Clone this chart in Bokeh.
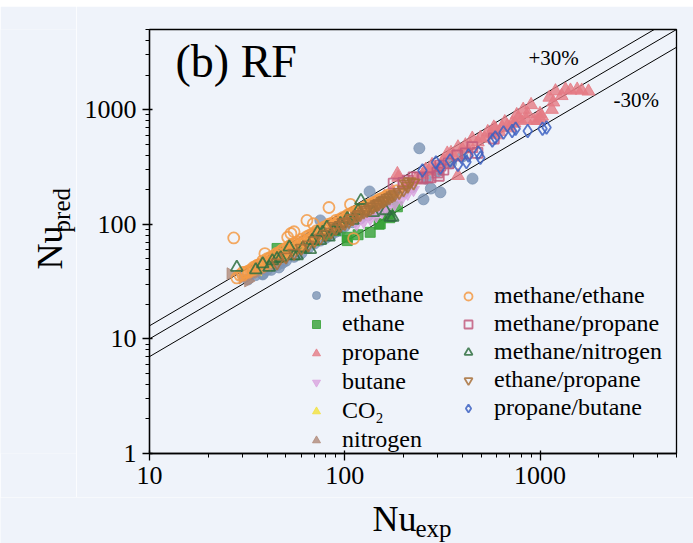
import math
from bokeh.plotting import figure
from bokeh.models import FixedTicker, Label, Legend, LegendItem, PrintfTickFormatter, Spacer
from bokeh.layouts import column, row
from bokeh.core.properties import value
from bokeh.embed import file_html
from bokeh.resources import INLINE

# ---------------- data (Nu_exp, Nu_pred) ----------------
methane_exp = [32, 35, 38, 40, 42, 45, 48, 50, 55, 60, 65, 70, 75, 80, 90, 100, 110, 120, 132, 134, 140, 150, 160, 170, 180,
               200, 220, 241, 253, 276, 309, 451, 260, 300, 350, 400, 75, 85, 95, 46, 38]
methane_pred = [33, 36, 37, 40, 40, 44, 46, 48, 52, 56, 62, 68, 72, 76, 86, 96, 104, 112, 120, 193, 128, 140, 150, 160, 172,
                190, 210, 460, 165, 205, 190, 250, 250, 290, 340, 390, 108, 80, 88, 42, 36.5]

ethane_exp = [45, 60, 70, 80, 90, 103, 117, 135, 150, 167, 186, 170, 103, 152]
ethane_pred = [61.5, 62, 72, 82, 88, 72, 81, 85, 100, 124, 142, 114, 77, 101]

propane_exp = [100, 120, 140, 160, 175, 186, 188, 200, 215, 230, 250, 270, 290, 310, 335, 360, 380, 380, 415, 440, 480,
               495, 520, 560, 590, 620, 640, 680, 720, 740, 770, 800, 865, 930, 970, 1000, 1000, 1024, 1117, 1170, 1290,
               1432, 1550, 1635, 1771, 600, 700, 850, 1150, 260, 280, 320, 350, 400, 450, 540, 580, 660, 760, 820, 900,
               1200, 1350]
propane_pred = [108, 130, 150, 175, 195, 275, 256, 210, 230, 245, 270, 290, 310, 330, 415, 400, 470, 265, 490, 480, 520,
                570, 560, 620, 680, 640, 700, 720, 760, 760, 840, 800, 920, 800, 800, 840, 920, 874, 1277, 1160, 1320,
                1470, 1500, 1470, 1443, 600, 690, 820, 1000, 300, 330, 360, 420, 450, 560, 640, 700, 780, 900, 1000, 1100,
                1450, 1500]

butane_exp = [115, 125, 135, 145, 155, 165, 180, 195, 210, 225]
butane_pred = [100, 105, 112, 118, 128, 135, 150, 165, 185, 200]

co2_exp = [36, 40, 44, 48, 52, 56, 62, 68]
co2_pred = [40, 44, 50, 55, 60, 62, 68, 72]

nitrogen_exp = [26, 30, 33, 36, 40, 44, 32]
nitrogen_pred = [37, 34, 36, 38, 42, 45, 32]

me_et_exp = [28, 29, 30, 31, 32, 33, 34, 35, 36, 37, 38, 39, 40, 41, 42, 43, 44, 45, 46, 47, 48, 50, 51, 52, 53, 55, 56,
             58, 60, 62, 64, 66, 68, 70, 72, 75, 78, 80, 83, 86, 90, 94, 98, 103, 107, 111, 115, 120, 125, 130, 136,
             142, 150, 160, 170, 185, 27, 51, 53, 55, 64, 69, 83, 107, 111, 39,
             30, 32, 34, 36, 38, 40, 42, 44, 46, 48, 50, 52, 54, 57, 59, 61, 63, 65, 67, 69, 71, 73, 76, 79, 82, 85, 88,
             92, 96, 100, 105, 110, 116, 122, 128, 134, 140, 146, 155, 165]
me_et_pred = [34, 36, 36, 38, 38, 40, 42, 43, 44, 45, 48, 46, 50, 50, 52, 52, 54, 56, 55, 58, 60, 62, 60, 64, 66, 67, 68,
              70, 74, 72, 78, 80, 82, 84, 88, 90, 94, 96, 100, 102, 108, 110, 115, 120, 124, 128, 130, 136, 140, 146, 150,
              156, 165, 172, 182, 196, 76, 77, 83, 86, 108, 101, 140, 149, 75, 55.5,
              38, 39, 40, 44, 43, 47, 47, 50, 53, 52, 57, 58, 60, 63, 67, 66, 70, 73, 74, 78, 79, 82, 85, 88, 93, 95, 98,
              103, 106, 110, 118, 122, 126, 134, 140, 146, 150, 158, 168, 178]

me_pr_exp = [178, 200, 210, 225, 235, 265, 275, 298, 303, 309, 340, 377, 416, 478, 580, 250, 320, 450]
me_pr_pred = [226, 230, 240, 256, 256, 256, 256, 282, 265, 325, 340, 398, 415, 420, 560, 250, 300, 470]

me_n2_exp = [28, 41, 42.6, 45, 47, 52, 55, 57, 61, 66.6, 68, 72.5, 75, 77, 81, 83, 87.5, 95, 103, 117, 121, 140, 162, 171,
             176, 35, 38, 90, 110]
me_n2_pred = [42, 42, 48, 50, 51, 63, 53, 53, 62, 60, 72, 85, 72, 85, 94, 77, 88, 101, 112, 131, 161, 126, 131, 115,
              115, 40, 45, 92, 108]

et_pr_exp = [45, 50, 55, 60, 65, 70, 75, 80, 85, 90, 95, 100, 105, 110, 115, 120, 125, 130, 135, 140, 145, 150, 155, 160,
             165, 170, 175, 180, 190, 200, 210, 88, 98, 108, 118, 128, 138, 148, 158, 205, 215, 225]
et_pr_pred = [46, 52, 56, 62, 66, 72, 76, 82, 86, 92, 98, 102, 106, 112, 118, 122, 128, 132, 136, 142, 148, 152, 158, 162,
              168, 172, 178, 182, 190, 200, 215, 96, 104, 112, 122, 134, 142, 150, 160, 225, 235, 230]

pr_bu_exp = [250, 293, 309, 346, 430, 484, 495, 570, 590, 650, 720, 750, 865, 1030, 1080, 380, 420]
pr_bu_pred = [294, 345, 313, 360, 398, 420, 380, 537, 570, 630, 650, 680, 650, 680, 700, 330, 350]

deviation_ratios = [1.3, 1.0, 0.7]
x_ticks = [10, 100, 1000]
y_ticks = [1, 10, 100, 1000]

# ---------------- styling ----------------
BG = "#EFF3FA"
SERIF = "Liberation Serif"
W, H = 693, 543
TOP_STRIP = 6
YLAB_W = 76
XLAB_H = 46
MAIN_H = H - TOP_STRIP - XLAB_H
DESC = 0.216  # font descent (em) used to place text by its bottom edge

p = figure(width=W - YLAB_W, height=MAIN_H, x_axis_type="log", y_axis_type="log",
           x_range=(10, 5000), y_range=(1, 5000),
           output_backend="svg", toolbar_location=None,
           min_border_left=149 - YLAB_W, min_border_right=17, min_border_top=23,
           min_border_bottom=MAIN_H - 23 - 424,
           background_fill_color=BG, border_fill_color=BG)
p.grid.visible = False
p.outline_line_color = "black"
p.outline_line_width = 1.3


def minor(decades, upto):
    out = []
    for d in decades:
        for k in range(2, 10):
            v = k * d
            if v <= upto:
                out.append(v)
    return out


p.xaxis.ticker = FixedTicker(ticks=x_ticks, minor_ticks=minor([10, 100, 1000], 5000))
p.yaxis.ticker = FixedTicker(ticks=y_ticks, minor_ticks=minor([1, 10, 100, 1000], 5000))
for ax in (p.xaxis, p.yaxis):
    ax.formatter = PrintfTickFormatter(format="%d")
    ax.major_label_text_font = SERIF
    ax.major_label_text_font_size = "26px"
    ax.major_label_text_color = "black"
    ax.axis_line_color = "black"
    ax.axis_line_width = 1.3
    ax.major_tick_line_color = "black"
    ax.minor_tick_line_color = "black"
    ax.major_tick_line_width = 1.3
    ax.minor_tick_line_width = 1.0
    ax.major_tick_in = 3
    ax.major_tick_out = 7
    ax.minor_tick_in = 0
    ax.minor_tick_out = 4
    ax.major_label_standoff = 6

# reference lines
line_x = [10, 5000]
for ratio in deviation_ratios:
    p.line(line_x, [ratio * v for v in line_x], line_color="black", line_width=1)

series = [
    ("methane", methane_exp, methane_pred, "circle", "#7C93B4", True, 0.0, 11),
    ("ethane", ethane_exp, ethane_pred, "square", "#33A033", True, 0.0, 10),
    ("propane", propane_exp, propane_pred, "triangle", "#E57A85", True, 0.0, 13),
    ("butane", butane_exp, butane_pred, "inverted_triangle", "#D9A2DE", True, 0.0, 12),
    ("CO\u2082", co2_exp, co2_pred, "triangle", "#F2E13C", True, math.pi / 2, 12),
    ("nitrogen", nitrogen_exp, nitrogen_pred, "triangle", "#B08979", True, -math.pi / 2, 12),
    ("methane/ethane", me_et_exp, me_et_pred, "circle", "#F39A45", False, 0.0, 11),
    ("methane/propane", me_pr_exp, me_pr_pred, "square", "#C25A7C", False, 0.0, 10),
    ("methane/nitrogen", me_n2_exp, me_n2_pred, "triangle", "#2F6F3F", False, 0.0, 12),
    ("ethane/propane", et_pr_exp, et_pr_pred, "inverted_triangle", "#A8703A", False, 0.0, 12),
    ("propane/butane", pr_bu_exp, pr_bu_pred, "diamond", "#3D62C2", False, 0.0, 13),
]

renderers = []
for name, xs, ys, marker, color, filled, ang, size in series:
    if filled:
        r = p.scatter(xs, ys, marker=marker, size=size, angle=ang,
                      fill_color=color, fill_alpha=0.8, line_color=color, line_alpha=0.8, line_width=1)
    else:
        r = p.scatter(xs, ys, marker=marker, size=size, angle=ang,
                      fill_color=None, line_color=color, line_alpha=0.85, line_width=1.8)
    renderers.append((name, r))


def make_legend(items, loc, spacing):
    return Legend(items=[LegendItem(label=value(n), renderers=[r]) for n, r in items],
                  location=loc, orientation="vertical",
                  label_text_font=SERIF, label_text_font_size="24px", label_text_color="black",
                  label_standoff=16, glyph_width=20, glyph_height=20, label_height=20,
                  spacing=spacing, padding=0, margin=0,
                  border_line_alpha=0, background_fill_alpha=0)


p.add_layout(make_legend(renderers[:6], (157, 0), 2), "center")
p.add_layout(make_legend(renderers[6:], (309, 32), 1), "center")


def ylog(px):
    # pixel row in the page -> data value on the main log y scale (frame 29..453)
    return 10 ** ((453 - px) / 114.6)


def xlog(px):
    return 10 ** (1 + (px - 149) / 195.3)


def text_label(x, y, text, size, angle=0.0):
    return Label(x=x, y=y, text=text, angle=angle, text_font=SERIF, text_font_size=f"{size}px",
                 text_color="black", text_align="left", text_baseline="bottom")


# in-plot texts (positioned by bottom edge = baseline + descent)
p.add_layout(text_label(xlog(175), ylog(77 + DESC * 46), "(b) RF", 46))
p.add_layout(text_label(xlog(528), ylog(65 + DESC * 21), "+30%", 21))
p.add_layout(text_label(xlog(613), ylog(107 + DESC * 21), "-30%", 21))

# ---------------- axis-title strips (text with subscripts) ----------------
ylab = figure(width=YLAB_W, height=MAIN_H, x_range=(0, YLAB_W), y_range=(0, MAIN_H),
              output_backend="svg", toolbar_location=None,
              x_axis_location=None, y_axis_location=None,
              min_border=0, background_fill_color=BG, border_fill_color=BG, outline_line_color=None)
ylab.grid.visible = False
# page y -> data y = (TOP_STRIP + MAIN_H) - page_y ; rotated text: bottom edge lies to the right
ylab.add_layout(text_label(62 + DESC * 36, TOP_STRIP + MAIN_H - 284, "Nu", 36, math.pi / 2))
ylab.add_layout(text_label(69 + DESC * 25, TOP_STRIP + MAIN_H - 241, "pred", 25, math.pi / 2))

xlab = figure(width=W, height=XLAB_H, x_range=(0, W), y_range=(0, XLAB_H),
              output_backend="svg", toolbar_location=None,
              x_axis_location=None, y_axis_location=None,
              min_border=0, background_fill_color=BG, border_fill_color=BG, outline_line_color=None)
xlab.grid.visible = False
# page y -> data y = H - page_y
xlab.add_layout(text_label(372, H - (531 + DESC * 36), "Nu", 36))
xlab.add_layout(text_label(415, H - (536 + DESC * 25), "exp", 25))

layout = column(Spacer(width=W, height=TOP_STRIP), row(ylab, p, spacing=0), xlab, spacing=0)
open("out.html", "w").write(file_html(layout, INLINE))
